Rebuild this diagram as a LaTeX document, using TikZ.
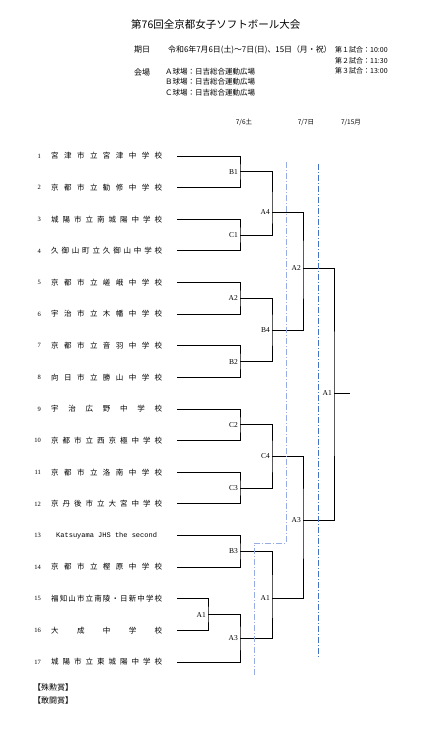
\documentclass[tikz,border=0pt]{standalone}
\usepackage{fontspec}
\usepackage{tikz}
\newfontfamily\jpfont{Noto Sans CJK JP}
\newfontfamily\latinmono{Liberation Mono}
\newfontfamily\latinserif{Liberation Serif}
\definecolor{paleblue}{RGB}{150,172,226}
\definecolor{lineblue}{RGB}{68,114,196}
\def\spreadjp#1{#1\spreadnext}
\def\spreadnext#1{\ifx#1\relax\else\hfil#1\expandafter\spreadnext\fi}
\tikzset{
  bracket/.style={line width=0.8pt},
  teamname/.style={anchor=west,inner sep=0pt,font=\jpfont\fontsize{7.5}{9}\selectfont},
  teamno/.style={anchor=east,inner sep=0pt,font=\latinserif\fontsize{6.5}{8}\selectfont},
  matchlabel/.style={anchor=east,inner sep=0pt,font=\latinserif\fontsize{7.5}{8}\selectfont},
  headtext/.style={anchor=west,inner sep=0pt,font=\jpfont\fontsize{7.5}{9}\selectfont},
  dayhead/.style={inner sep=0pt,font=\jpfont\fontsize{6.5}{8}\selectfont},
  sched/.style={dash pattern=on 6pt off 2pt on 1pt off 2pt,line width=0.8pt}
}
\begin{document}
\begin{tikzpicture}[x=1pt,y=-1pt]
    \fill[white](0,0) rectangle (439,729);
    \useasboundingbox (0,0) rectangle (439,729);
    % header
    \node[headtext,font=\jpfont\fontsize{10.5}{12}\selectfont](title) at (131,25) {第76回全京都女子ソフトボール大会};
    \node[headtext,font=\jpfont\fontsize{8}{9}\selectfont](daylbl) at (134,50) {期日};
    \node[headtext,font=\jpfont\fontsize{7.9}{9}\selectfont](dates) at (168,50) {令和6年7月6日(土)～7日(日)、15日（月・祝）};
    \node[headtext,font=\jpfont\fontsize{7}{9}\selectfont](game1) at (335,50) {第１試合：10:00};
    \node[headtext,font=\jpfont\fontsize{7}{9}\selectfont](game2) at (335,61) {第２試合：11:30};
    \node[headtext,font=\jpfont\fontsize{7}{9}\selectfont](game3) at (335,71) {第３試合：13:00};
    \node[headtext,font=\jpfont\fontsize{8}{9}\selectfont](venuelbl) at (134,72) {会場};
    \node[headtext](fieldA) at (165,72) {Ａ球場：日吉総合運動広場};
    \node[headtext](fieldB) at (165,82) {Ｂ球場：日吉総合運動広場};
    \node[headtext](fieldC) at (165,93) {Ｃ球場：日吉総合運動広場};
    \node[dayhead](day1) at (244,122) {7/6土};
    \node[dayhead](day2) at (306,122) {7/7日};
    \node[dayhead](day3) at (351,122) {7/15月};
    % teams
    \foreach \i in {1,...,17}{
        \pgfmathsetmacro\ty{156+(\i-1)*31.625}
        \coordinate(t\i) at (177,\ty);
        \node[teamno](no\i) at (41,\ty) {\i};
    }
    \foreach \i/\name in {1/宮津市立宮津中学校,2/京都市立勧修中学校,3/城陽市立南城陽中学校,
        4/久御山町立久御山中学校,5/京都市立嵯峨中学校,6/宇治市立木幡中学校,
        7/京都市立音羽中学校,8/向日市立勝山中学校,9/宇治広野中学校,
        10/京都市立西京極中学校,11/京都市立洛南中学校,12/京丹後市立大宮中学校,
        14/京都市立樫原中学校,15/福知山市立南陵・日新中学校,16/大成中学校,
        17/城陽市立東城陽中学校}{
        \node[teamname](name\i) at (51,156+\i*31.625-31.625) {\makebox[111pt][s]{\expandafter\spreadjp\name\relax}};
    }
    \node[teamname,font=\latinmono\fontsize{7}{8}\selectfont](name13) at (56,535.5) {Katsuyama JHS the second};
    % games
    \coordinate(r1B1) at (240,171.8);
    \coordinate(r1C1) at (240,235.1);
    \coordinate(r1A2) at (240,298.3);
    \coordinate(r1B2) at (240,361.6);
    \coordinate(r1C2) at (240,424.8);
    \coordinate(r1C3) at (240,488.1);
    \coordinate(r1B3) at (240,551.3);
    \coordinate(r1A1) at (208,614.6);
    \coordinate(r1A3) at (240,638.3);
    \coordinate(r2A4) at (272,212);
    \coordinate(r2B4) at (272,330.5);
    \coordinate(r2C4) at (272,456.5);
    \coordinate(r2A1) at (272,598);
    \coordinate(r3A2) at (303,268);
    \coordinate(r3A3) at (303,520);
    \coordinate(r4A1) at (334,393);
    \coordinate(win) at (350,393);
    \draw[bracket](t1) -| (r1B1) |- (t2);
    \draw[bracket](t3) -| (r1C1) |- (t4);
    \draw[bracket](t5) -| (r1A2) |- (t6);
    \draw[bracket](t7) -| (r1B2) |- (t8);
    \draw[bracket](t9) -| (r1C2) |- (t10);
    \draw[bracket](t11) -| (r1C3) |- (t12);
    \draw[bracket](t13) -| (r1B3) |- (t14);
    \draw[bracket](t15) -| (r1A1) |- (t16);
    \draw[bracket](r1A1) -| (r1A3) |- (t17);
    \draw[bracket](r1B1) -| (r2A4) |- (r1C1);
    \draw[bracket](r1A2) -| (r2B4) |- (r1B2);
    \draw[bracket](r1C2) -| (r2C4) |- (r1C3);
    \draw[bracket](r1B3) -| (r2A1) |- (r1A3);
    \draw[bracket](r2A4) -| (r3A2) |- (r2B4);
    \draw[bracket](r2C4) -| (r3A3) |- (r2A1);
    \draw[bracket](r3A2) -| (r4A1) |- (r3A3);
    \draw[bracket](r4A1) -- (win);
    \foreach \g/\lbl in {r1B1/B1,r1C1/C1,r1A2/A2,r1B2/B2,r1C2/C2,r1C3/C3,r1B3/B3,r1A1/A1,r1A3/A3,
        r2A4/A4,r2B4/B4,r2C4/C4,r2A1/A1,r3A2/A2,r3A3/A3,r4A1/A1}{
        \node[matchlabel](l\g) at ([xshift=-2pt]\g) {\lbl};
    }
    % schedule lines
    \draw[sched,paleblue](286,162) -- (286,543) -- (254,543) -- (254,675);
    \draw[sched,lineblue](318,164) -- (318,658);
    % awards
    \node[headtext,font=\jpfont\fontsize{8}{9}\selectfont](award1) at (33,687) {【殊勲賞】};
    \node[headtext,font=\jpfont\fontsize{8}{9}\selectfont](award2) at (33,700) {【敢闘賞】};
\end{tikzpicture}
\end{document}
